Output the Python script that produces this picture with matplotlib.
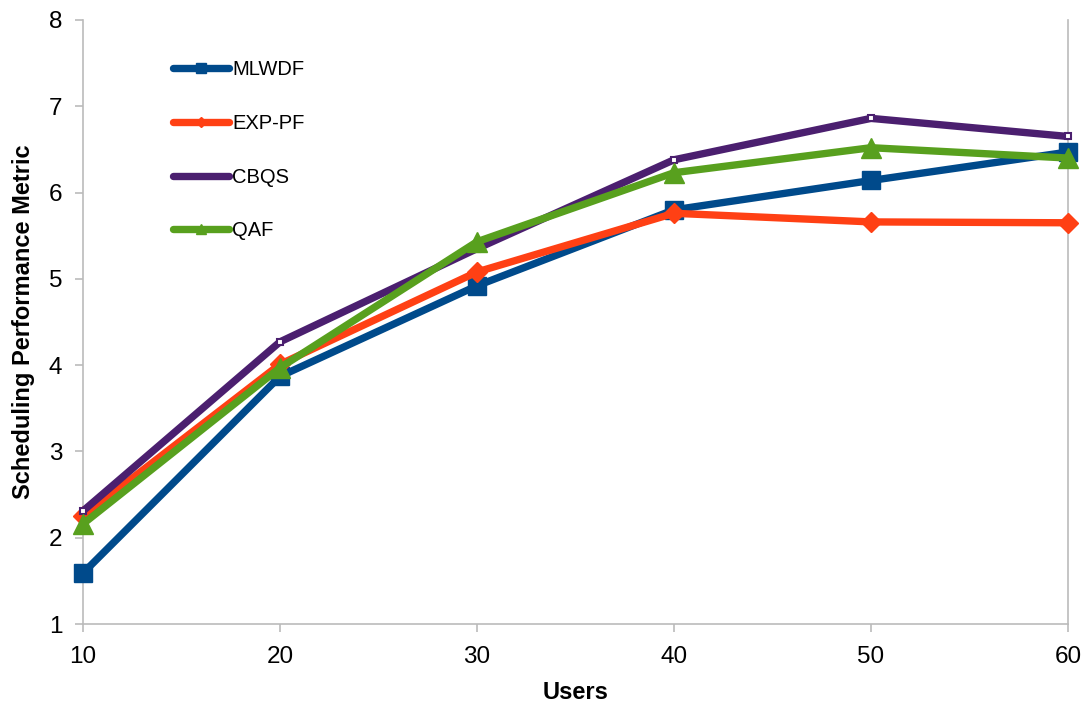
import matplotlib
matplotlib.use("Agg")
import matplotlib.pyplot as plt

users = [10, 20, 30, 40, 50, 60]
mlwdf = [1.59, 3.87, 4.92, 5.80, 6.14, 6.47]
exppf = [2.25, 4.01, 5.08, 5.76, 5.66, 5.65]
cbqs = [2.31, 4.27, 5.35, 6.38, 6.86, 6.65]
qaf = [2.16, 3.97, 5.43, 6.23, 6.52, 6.40]

plt.rcParams['font.family'] = ['Liberation Sans', 'DejaVu Sans']

fig = plt.figure(figsize=(10.89, 7.04), dpi=100)
ax = fig.add_axes([0.0762, 0.1136, 0.9045, 0.858])

lw = 5.3
ax.plot(users, mlwdf, color='#004A8B', lw=lw, marker='s', markersize=13, label='MLWDF', solid_capstyle='round', clip_on=False, zorder=3)
ax.plot(users, exppf, color='#FF4014', lw=lw, marker='D', markersize=10, label='EXP-PF', solid_capstyle='round', clip_on=False, zorder=3)
ax.plot(users, cbqs, color='#4B1F6F', lw=lw, marker='s', markersize=4, markerfacecolor='white', markeredgewidth=1.5, label='CBQS', solid_capstyle='round', clip_on=False, zorder=3)
ax.plot(users, qaf, color='#58A01E', lw=lw, marker='^', markersize=14, label='QAF', solid_capstyle='round', clip_on=False, zorder=3)

ax.set_xlim(10, 60)
ax.set_ylim(1, 8)
ax.set_xticks(users)
ax.set_yticks(range(1, 9))
ax.spines['top'].set_visible(False)
for s in ['left', 'right', 'bottom']:
    ax.spines[s].set_color('#BBBBBB')
    ax.spines[s].set_linewidth(1.2)
ax.tick_params(axis='both', labelsize=17.5, color='#BBBBBB', length=6, width=1.2)
ax.tick_params(axis='x', pad=10)
ax.tick_params(axis='y', pad=9)
ax.set_xlabel('Users', fontsize=17, fontweight='bold', labelpad=9)
ax.set_ylabel('Scheduling Performance Metric', fontsize=17, fontweight='bold', labelpad=10)

leg = ax.legend(loc='upper left', bbox_to_anchor=(0.073, 0.963), frameon=False, fontsize=14.5,
                handlelength=2.8, labelspacing=1.72, handletextpad=0.15, markerscale=0.5)
for l in leg.get_lines():
    l.set_solid_capstyle('round')

fig.savefig('out.png', dpi=100)
